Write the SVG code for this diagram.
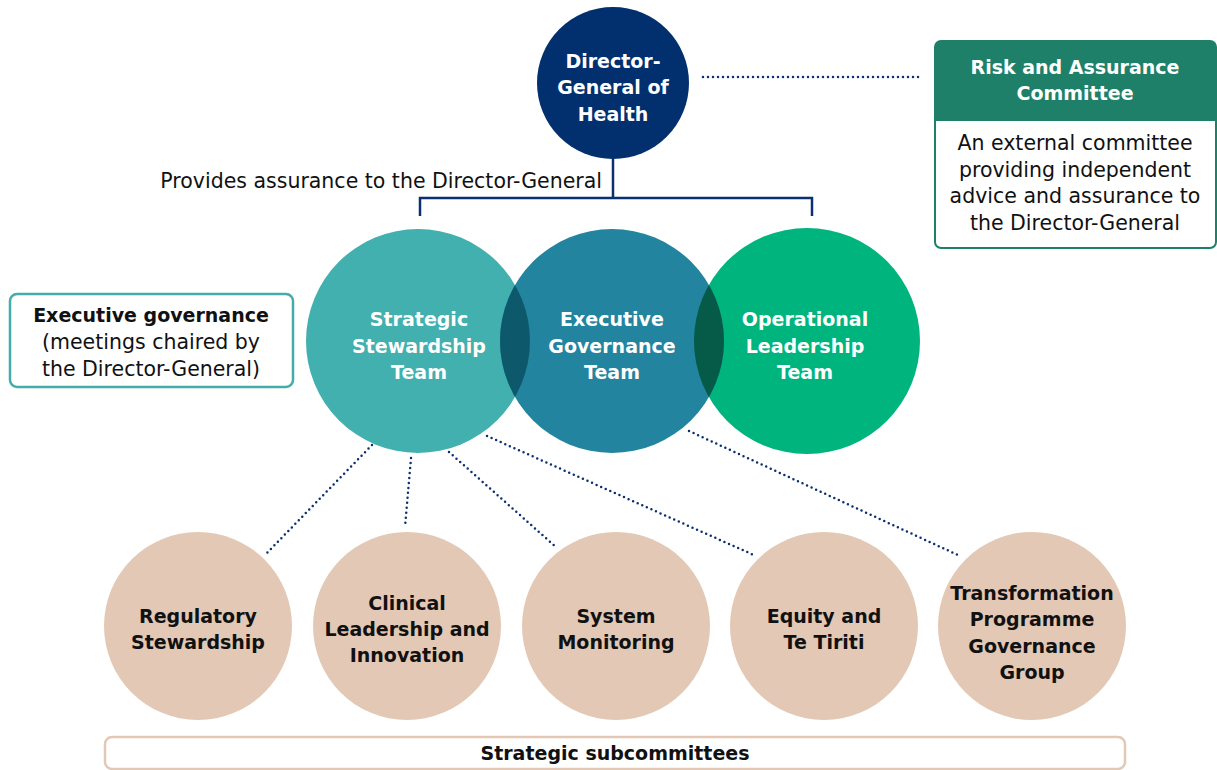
<svg xmlns="http://www.w3.org/2000/svg" width="1217" height="770" viewBox="0 0 1217 770">
<style>
text{font-family:"DejaVu Sans","Open Sans",sans-serif;text-anchor:middle}
.b{font-weight:700;font-size:19px}
.r{font-size:20.5px;fill:#111}
.w{fill:#fff}
.k{fill:#111}
.dot{fill:none;stroke:#0b3070;stroke-width:2.5;stroke-linecap:round;stroke-dasharray:0 5}
.solid{fill:none;stroke:#0b3070;stroke-width:2.5}
.sub{fill:#e2c8b5}
</style>
<rect width="1217" height="770" fill="#fff"/>
<g id="connectors">
<path class="solid" d="M613 159V198M420 216V198H812V216"/>
<path class="dot" d="M703 77H922"/>
<path class="dot" d="M372 445L265 555"/>
<path class="dot" d="M411 458L405 527"/>
<path class="dot" d="M449 452L557 548"/>
<path class="dot" d="M487 436L756 556"/>
<path class="dot" d="M689 431L960 556"/>
</g>
<g id="provides-label"><text class="r" x="602" y="188" style="text-anchor:end">Provides assurance to the Director-General</text></g>
<g id="director-general">
<circle cx="613" cy="83" r="76" fill="#022f6e"/>
<text class="b w" x="613" y="68">Director-</text>
<text class="b w" x="613" y="94">General of</text>
<text class="b w" x="613" y="121">Health</text>
</g>
<g id="risk-committee">
<rect x="935" y="41" width="281" height="207" rx="6" fill="#fff" stroke="#1f8069" stroke-width="2"/>
<path d="M935 121V47a6 6 0 0 1 6-6H1210a6 6 0 0 1 6 6V121Z" fill="#1f8069"/>
<text class="b w" x="1075" y="74">Risk and Assurance</text>
<text class="b w" x="1075" y="100">Committee</text>
<text class="r" x="1075" y="150">An external committee</text>
<text class="r" x="1075" y="177">providing independent</text>
<text class="r" x="1075" y="203">advice and assurance to</text>
<text class="r" x="1075" y="230">the Director-General</text>
</g>
<g id="executive-governance-label">
<rect x="10" y="294" width="283" height="93" rx="7" fill="#fff" stroke="#44aca9" stroke-width="2.5"/>
<text class="b k" x="151" y="322">Executive governance</text>
<text class="r" x="151" y="349">(meetings chaired by</text>
<text class="r" x="151" y="376">the Director-General)</text>
</g>
<defs>
<clipPath id="cS"><circle cx="418" cy="341" r="112"/></clipPath>
<clipPath id="cO"><circle cx="807" cy="341" r="113"/></clipPath>
</defs>
<g id="strategic-stewardship">
<circle cx="418" cy="341" r="112" fill="#42b0ae"/>
</g>
<g id="operational-leadership">
<circle cx="807" cy="341" r="113" fill="#00b47d"/>
</g>
<g id="executive-governance-team">
<circle cx="612" cy="341" r="112" fill="#22849e"/>
<circle cx="612" cy="341" r="112" fill="#0d596b" clip-path="url(#cS)"/>
<circle cx="612" cy="341" r="112" fill="#055a48" clip-path="url(#cO)"/>
</g>
<g id="circle-labels">
<text class="b w" x="419" y="326">Strategic</text>
<text class="b w" x="419" y="353">Stewardship</text>
<text class="b w" x="419" y="379">Team</text>
<text class="b w" x="612" y="326">Executive</text>
<text class="b w" x="612" y="353">Governance</text>
<text class="b w" x="612" y="379">Team</text>
<text class="b w" x="805" y="326">Operational</text>
<text class="b w" x="805" y="353">Leadership</text>
<text class="b w" x="805" y="379">Team</text>
</g>
<g id="regulatory">
<circle class="sub" cx="198" cy="626" r="94"/>
<text class="b k" x="198" y="623">Regulatory</text>
<text class="b k" x="198" y="649">Stewardship</text>
</g>
<g id="clinical">
<circle class="sub" cx="407" cy="626" r="94"/>
<text class="b k" x="407" y="610">Clinical</text>
<text class="b k" x="407" y="636">Leadership and</text>
<text class="b k" x="407" y="662">Innovation</text>
</g>
<g id="system-monitoring">
<circle class="sub" cx="616" cy="626" r="94"/>
<text class="b k" x="616" y="623">System</text>
<text class="b k" x="616" y="649">Monitoring</text>
</g>
<g id="equity">
<circle class="sub" cx="824" cy="626" r="94"/>
<text class="b k" x="824" y="623">Equity and</text>
<text class="b k" x="824" y="649">Te Tiriti</text>
</g>
<g id="transformation">
<circle class="sub" cx="1032" cy="626" r="94"/>
<text class="b k" x="1032" y="600">Transformation</text>
<text class="b k" x="1032" y="626">Programme</text>
<text class="b k" x="1032" y="653">Governance</text>
<text class="b k" x="1032" y="679">Group</text>
</g>
<g id="strategic-subcommittees">
<rect x="105" y="737" width="1020" height="32" rx="7" fill="#fff" stroke="#e2c8b5" stroke-width="2.5"/>
<text class="b k" x="615" y="760">Strategic subcommittees</text>
</g>
</svg>
